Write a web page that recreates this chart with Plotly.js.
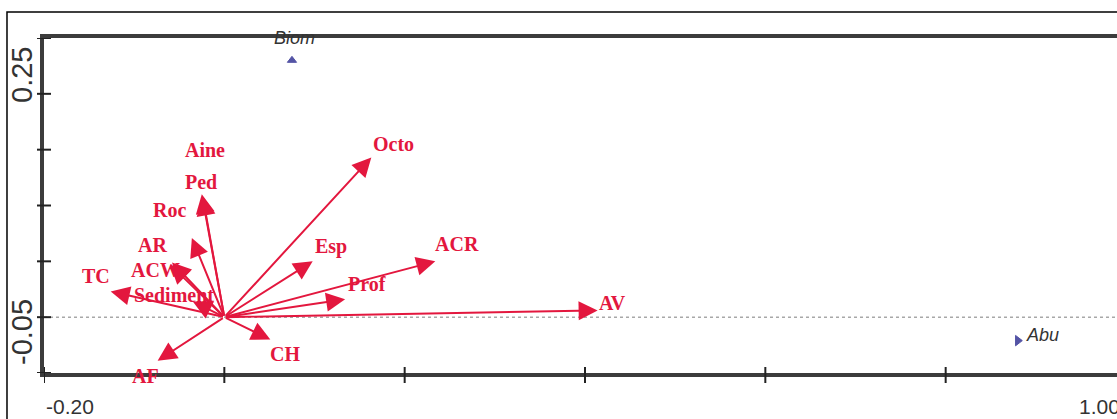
<!DOCTYPE html>
<html><head><meta charset="utf-8">
<script src="https://cdn.plot.ly/plotly-3.0.1.min.js"></script>
<style>html,body{margin:0;padding:0;overflow:hidden;background:#fff}#chart{width:1160px;height:419px}</style>
</head><body><div id="chart"></div>
<script>
// Environmental variables (biplot arrow tips)
const envNames = ['Aine','Ped','Roc','AR','ACW','Sediment','TC','AF','CH','Esp','Prof','ACR','Octo','AV'];
const envX = [-0.025,-0.024,-0.036,-0.058,-0.060,-0.035,-0.126,-0.074,0.051,0.098,0.134,0.234,0.163,0.414];
const envY = [0.110,0.108,0.071,0.049,0.047,0.014,0.023,-0.039,-0.020,0.050,0.016,0.050,0.143,0.006];
// Response variables (points)
const speciesNames = ['Biom','Abu'];
const speciesX = [0.075,0.880];
const speciesY = [0.230,-0.021];
// Axes
const xTicks = [-0.2,0,0.2,0.4,0.6,0.8,1.0];
const yTicks = [-0.05,0,0.05,0.10,0.15,0.20,0.25];
const xEndLabels = ['-0.20','1.00'];
const yEndLabels = ['-0.05','0.25'];

// label offsets in pixels (style only)
const labelOffset = {
  Aine:[3,-44], Ped:[-2,-15], Roc:[-22,-28], AR:[-20,-17], ACW:[-15,5], Sediment:[-19,-7],
  TC:[-15,-15], AF:[-12,15], CH:[15,14], Esp:[18,-15], Prof:[22,-15], ACR:[22,-17],
  Octo:[22,-13], AV:[15,-7], Biom:[3,-22], Abu:[25,-6]
};
const RED = '#e3173e';
const TICK = '#222';
const xr = [xTicks[0], xTicks[xTicks.length-1]];
const yr = [yTicks[0], yTicks[yTicks.length-1]];
const annotations = [];
envNames.forEach((n,i)=>{
  const o = labelOffset[n];
  annotations.push({x:envX[i], y:envY[i], xref:'x', yref:'y', text:'<b>'+n+'</b>', showarrow:false,
    xshift:o[0], yshift:-o[1], xanchor:'center', yanchor:'middle',
    font:{family:'Liberation Serif, Times New Roman, serif', size:20, color:RED}});
});
envNames.forEach((n,i)=>{
  annotations.push({x:envX[i], y:envY[i], xref:'x', yref:'y', ax:0, ay:0, axref:'x', ayref:'y',
    text:'', showarrow:true, arrowhead:2, arrowsize:1.9, arrowwidth:2, arrowcolor:RED, standoff:0});
});
speciesNames.forEach((n,i)=>{
  const o = labelOffset[n];
  annotations.push({x:speciesX[i], y:speciesY[i], xref:'x', yref:'y', text:'<i>'+n+'</i>', showarrow:false,
    xshift:o[0], yshift:-o[1], xanchor:'center', yanchor:'middle',
    font:{family:'Liberation Sans, Arial, sans-serif', size:18, color:'#333'}});
});
// axis end labels
const axFont = {family:'Liberation Sans, Arial, sans-serif', color:'#333'};
annotations.push({x:xr[0], y:0, xref:'x', yref:'paper', text:xEndLabels[0], showarrow:false,
  xanchor:'left', yanchor:'top', yshift:-20, font:Object.assign({size:21}, axFont)});
annotations.push({x:xr[1], y:0, xref:'x', yref:'paper', text:xEndLabels[1], showarrow:false,
  xanchor:'right', yanchor:'top', yshift:-20, xshift:-4, font:Object.assign({size:21}, axFont)});
annotations.push({x:0, y:yr[0], xref:'paper', yref:'y', text:yEndLabels[0], showarrow:false, textangle:-90,
  xanchor:'center', yanchor:'bottom', xshift:-22, yshift:6, font:Object.assign({size:29}, axFont)});
annotations.push({x:0, y:yr[1], xref:'paper', yref:'y', text:yEndLabels[1], showarrow:false, textangle:-90,
  xanchor:'center', yanchor:'top', xshift:-22, yshift:-7, font:Object.assign({size:29}, axFont)});

// crossing tick marks, placed through the axes' scales
const shapes = [
  {type:'line', xref:'x', yref:'y', x0:xr[0], x1:xr[1], y0:0, y1:0, layer:'below',
   line:{color:'#a8a8a8', width:1.5, dash:'dot'}},
  {type:'rect', xref:'paper', yref:'paper', x0:-0.0342, x1:1.3, y0:-0.5, y1:1.0776,
   line:{color:'#000', width:1.5}, fillcolor:'rgba(0,0,0,0)'}
];
xTicks.forEach(t=>shapes.push({type:'line', xref:'x', yref:'paper', ysizemode:'pixel', yanchor:0,
  x0:t, x1:t, y0:-10, y1:6, line:{color:TICK, width:2}}));
yTicks.forEach(t=>shapes.push({type:'line', yref:'y', xref:'paper', xsizemode:'pixel', xanchor:0,
  y0:t, y1:t, x0:-7, x1:7, line:{color:TICK, width:2}}));

const traces = [
  {x:speciesX, y:speciesY, mode:'markers', type:'scatter', hoverinfo:'skip',
   marker:{symbol:['triangle-up','triangle-right'], size:[8,9], color:'#0c0c80', line:{color:'#0c0c80', width:1}}}
];
const axBase = {showgrid:false, zeroline:false, showticklabels:false, fixedrange:true, ticks:''};
const layout = {
  width:1160, height:419, showlegend:false,
  margin:{l:44, r:34, t:38, b:46},
  paper_bgcolor:'#fff', plot_bgcolor:'#fff',
  xaxis:Object.assign({}, axBase, {range:xr, showline:true, linewidth:4, linecolor:'#3c3c3c', mirror:true}),
  yaxis:Object.assign({}, axBase, {range:yr, showline:true, linewidth:4, linecolor:'#3c3c3c', mirror:true}),
  shapes:shapes,
  annotations:annotations
};
Plotly.newPlot('chart', traces, layout, {displayModeBar:false, staticPlot:true});
</script></body></html>
